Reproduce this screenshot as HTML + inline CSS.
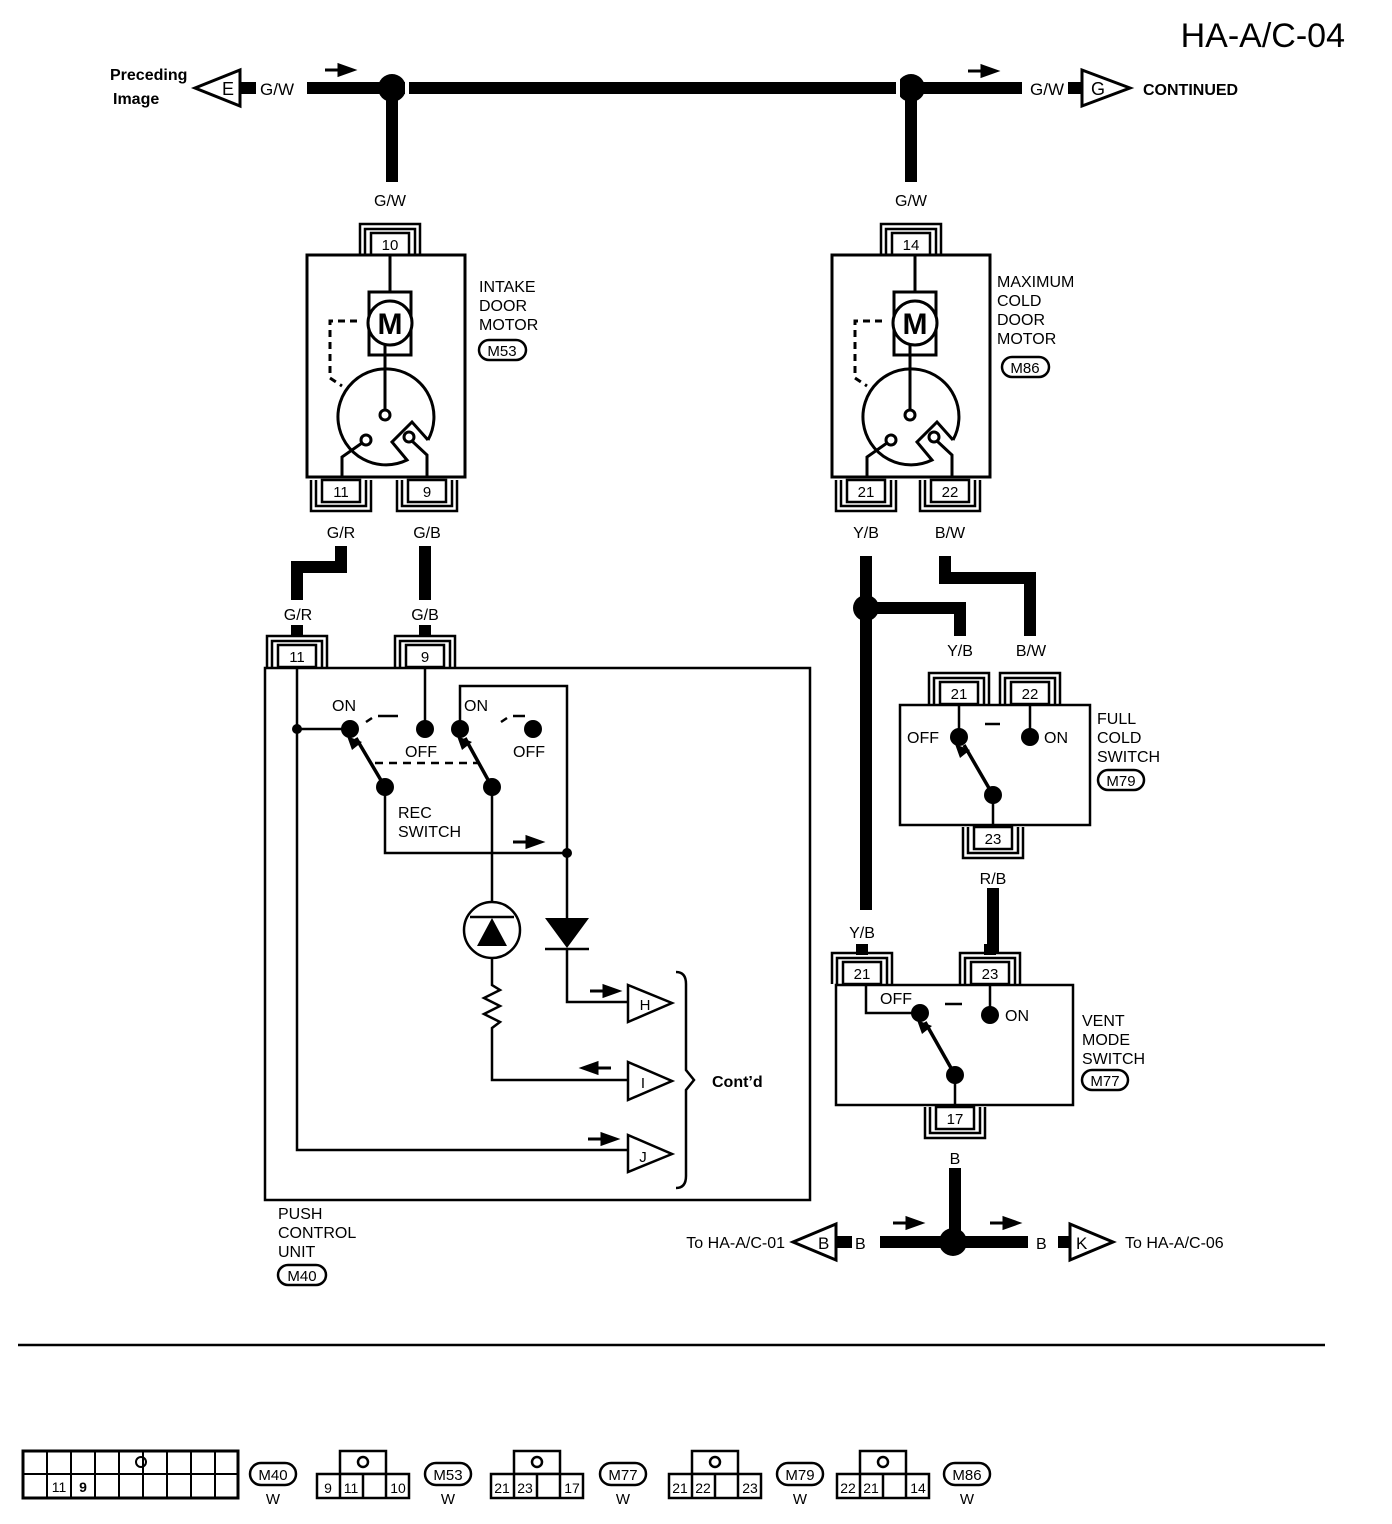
<!DOCTYPE html>
<html><head><meta charset="utf-8"><style>
html,body{margin:0;padding:0;background:#fff}
svg{display:block}
text{font-family:"Liberation Sans",sans-serif;fill:#000}
</style></head><body>
<svg width="1392" height="1524" viewBox="0 0 1392 1524" xmlns="http://www.w3.org/2000/svg">
<defs>
<g id="ct"><rect x="-19" y="0" width="38" height="22" fill="#fff" stroke="#000" stroke-width="2.5"/><path d="M-30,22 V-9 H30 V22 M-25,22 V-4 H25 V22" fill="none" stroke="#000" stroke-width="2.5"/></g>
<g id="cb"><rect x="-19" y="0" width="38" height="22" fill="#fff" stroke="#000" stroke-width="2.5"/><path d="M-30,0 V31 H30 V0 M-25,0 V26 H25 V0" fill="none" stroke="#000" stroke-width="2.5"/></g>
<path id="ar" d="M0,0 H16 M14,-5 L28,0 L14,5 Z" stroke="#000" stroke-width="3" fill="#000"/>
<path id="al" d="M28,0 H12 M14,-5 L0,0 L14,5 Z" stroke="#000" stroke-width="3" fill="#000"/>
</defs>
<rect width="1392" height="1524" fill="#fff"/>
<text x="1345" y="47" font-size="34" text-anchor="end">HA-A/C-04</text>

<!-- top bus -->
<g stroke="#000" stroke-width="12" fill="none">
<path d="M240,88 H256 M307,88 H392 H911 H1022 M1068,88 H1082"/>
<path d="M392,88 V182 M911,88 V182"/>
</g>
<circle cx="392" cy="88" r="14" fill="#000"/><circle cx="911" cy="88" r="14" fill="#000"/>
<rect x="405" y="78" width="4" height="20" fill="#fff"/><rect x="896" y="78" width="4" height="20" fill="#fff"/>
<polygon points="195,88 240,70 240,106" fill="#fff" stroke="#000" stroke-width="3"/>
<text x="222" y="95" font-size="18">E</text>
<text x="110" y="80" font-size="16" font-weight="bold">Preceding</text>
<text x="113" y="104" font-size="16" font-weight="bold">Image</text>
<text x="260" y="95" font-size="17">G/W</text>
<use href="#ar" x="325" y="70"/>
<text x="1030" y="95" font-size="17">G/W</text>
<polygon points="1130,88 1082,70 1082,106" fill="#fff" stroke="#000" stroke-width="3"/>
<text x="1091" y="95" font-size="18">G</text>
<text x="1143" y="95" font-size="16" font-weight="bold">CONTINUED</text>
<use href="#ar" x="968" y="71"/>

<!-- Intake door motor -->
<text x="390" y="206" font-size="16" text-anchor="middle">G/W</text>
<text x="911" y="206" font-size="16" text-anchor="middle">G/W</text>
<use href="#ct" x="390" y="233"/><text x="390" y="250" font-size="15" text-anchor="middle">10</text>
<use href="#ct" x="911" y="233"/><text x="911" y="250" font-size="15" text-anchor="middle">14</text>

<g id="motor">
<g stroke="#000" stroke-width="3" fill="none">
<rect x="307" y="255" width="158" height="222" fill="#fff"/>
<path d="M390,255 V292"/>
<rect x="369" y="292" width="42" height="63" fill="#fff"/>
<circle cx="390" cy="323" r="22" fill="#fff"/>
<path d="M357,321 H330 V378 L342,386" stroke-dasharray="7,5"/>
<path d="M385,345 V410"/>
<path d="M428,440 L412,422 L392,442 L407,460 A48,48 0 1 1 428,440"/>
<circle cx="385" cy="415" r="5" fill="#fff"/>
<circle cx="366" cy="440" r="5" fill="#fff"/>
<circle cx="409" cy="437" r="5" fill="#fff"/>
<path d="M362,443 L342,457 V477 M412,441 L427,455 V477"/>
</g>
<text x="390" y="334" font-size="30" font-weight="bold" text-anchor="middle">M</text>
</g>
<text x="479" y="292" font-size="16">INTAKE</text>
<text x="479" y="311" font-size="16">DOOR</text>
<text x="479" y="330" font-size="16">MOTOR</text>
<rect x="479" y="340" width="47" height="20" rx="10" fill="#fff" stroke="#000" stroke-width="2.5"/>
<text x="502" y="356" font-size="15" text-anchor="middle">M53</text>
<use href="#cb" x="341" y="480"/><text x="341" y="497" font-size="15" text-anchor="middle">11</text>
<use href="#cb" x="427" y="480"/><text x="427" y="497" font-size="15" text-anchor="middle">9</text>

<!-- Max cold door motor -->
<use href="#motor" x="525" y="0"/>
<text x="997" y="287" font-size="16">MAXIMUM</text>
<text x="997" y="306" font-size="16">COLD</text>
<text x="997" y="325" font-size="16">DOOR</text>
<text x="997" y="344" font-size="16">MOTOR</text>
<rect x="1002" y="357" width="47" height="20" rx="10" fill="#fff" stroke="#000" stroke-width="2.5"/>
<text x="1025" y="373" font-size="15" text-anchor="middle">M86</text>
<use href="#cb" x="866" y="480"/><text x="866" y="497" font-size="15" text-anchor="middle">21</text>
<use href="#cb" x="950" y="480"/><text x="950" y="497" font-size="15" text-anchor="middle">22</text>
<text x="866" y="538" font-size="16" text-anchor="middle">Y/B</text>
<text x="950" y="538" font-size="16" text-anchor="middle">B/W</text>

<!-- wires left -->
<text x="341" y="538" font-size="16" text-anchor="middle">G/R</text>
<text x="427" y="538" font-size="16" text-anchor="middle">G/B</text>
<text x="298" y="620" font-size="16" text-anchor="middle">G/R</text>
<text x="425" y="620" font-size="16" text-anchor="middle">G/B</text>
<g stroke="#000" stroke-width="12" fill="none">
<path d="M341,546 V567 H297 V600"/>
<path d="M425,546 V600"/>
<path d="M297,625 V637 M425,625 V637"/>
<path d="M866,556 V910 M866,608 H960 V636 M945,556 V578 H1030 V636"/>
<path d="M993,888 V954 M862,944 V955 M990,944 V955 M955,1168 V1242 M880,1242 H1028"/>
<path d="M836,1242 H852"/>
<path d="M1058,1242 H1070"/>
</g>
<circle cx="866" cy="608" r="13" fill="#000"/>
<circle cx="953" cy="1242" r="14" fill="#000"/>

<!-- Push control unit -->
<use href="#ct" x="297" y="645"/><text x="297" y="662" font-size="15" text-anchor="middle">11</text>
<use href="#ct" x="425" y="645"/><text x="425" y="662" font-size="15" text-anchor="middle">9</text>
<g stroke="#000" stroke-width="2.5" fill="none">
<path d="M265,668 H810 V1200 H265 Z"/>
<path d="M297,668 V1150 H628"/>
<path d="M297,729 H350"/>
<path d="M425,668 V729"/>
<path d="M460,729 V686 H567 V853"/>
<path d="M385,787 V853 H567"/>
<path d="M492,787 V902 M492,958 V985 L500,990 L484,998 L500,1006 L484,1014 L500,1022 L492,1028 V1080 H628"/>
<path d="M567,853 V918 M567,948 V1002 H628"/>
<circle cx="492" cy="930" r="28"/>
<path d="M470,917 H514 M545,949 H589"/>
<path d="M375,763 H480" stroke-dasharray="8,6"/>
<path d="M366,722 L372,718 M378,716 H398 M501,722 L507,718 M513,716 H525"/>
<path d="M385,787 L356,738 M492,787 L465,738" stroke-width="3.5"/>
<polygon points="628,985 672,1003 628,1022" fill="#fff"/>
<polygon points="628,1062 672,1081 628,1100" fill="#fff"/>
<polygon points="628,1135 672,1154 628,1172" fill="#fff"/>
<path d="M676,972 Q686,972 686,984 V1070 L694,1080 L686,1090 V1176 Q686,1188 676,1188"/>
</g>
<g fill="#000">
<circle cx="297" cy="729" r="5"/><circle cx="350" cy="729" r="9"/><circle cx="425" cy="729" r="9"/>
<circle cx="460" cy="729" r="9"/><circle cx="533" cy="729" r="9"/>
<circle cx="385" cy="787" r="9"/><circle cx="492" cy="787" r="9"/><circle cx="567" cy="853" r="5"/>
<polygon points="347,736 362,742 352,750"/><polygon points="457,736 472,742 462,750"/>
<polygon points="477,946 507,946 492,918"/>
<polygon points="545,918 589,918 567,948"/>
</g>
<use href="#ar" x="513" y="842"/>
<use href="#ar" x="590" y="991"/>
<use href="#al" x="583" y="1068"/>
<use href="#ar" x="588" y="1139"/>
<text x="332" y="711" font-size="16">ON</text>
<text x="464" y="711" font-size="16">ON</text>
<text x="405" y="757" font-size="16">OFF</text>
<text x="513" y="757" font-size="16">OFF</text>
<text x="398" y="818" font-size="16">REC</text>
<text x="398" y="837" font-size="16">SWITCH</text>
<text x="645" y="1010" font-size="15" text-anchor="middle">H</text>
<text x="643" y="1088" font-size="15" text-anchor="middle">I</text>
<text x="643" y="1162" font-size="15" text-anchor="middle">J</text>
<text x="712" y="1087" font-size="16" font-weight="bold">Cont’d</text>
<text x="278" y="1219" font-size="16">PUSH</text>
<text x="278" y="1238" font-size="16">CONTROL</text>
<text x="278" y="1257" font-size="16">UNIT</text>
<rect x="278" y="1265" width="48" height="20" rx="10" fill="#fff" stroke="#000" stroke-width="2.5"/>
<text x="302" y="1281" font-size="15" text-anchor="middle">M40</text>

<!-- Full cold switch -->
<text x="960" y="656" font-size="16" text-anchor="middle">Y/B</text>
<text x="1031" y="656" font-size="16" text-anchor="middle">B/W</text>
<use href="#ct" x="959" y="682"/><text x="959" y="699" font-size="15" text-anchor="middle">21</text>
<use href="#ct" x="1030" y="682"/><text x="1030" y="699" font-size="15" text-anchor="middle">22</text>
<g stroke="#000" stroke-width="2.5" fill="none">
<rect x="900" y="705" width="190" height="120"/>
<path d="M959,705 V737 M1030,705 V737 M993,795 V827"/>
<path d="M985,724 H1000" />
<path d="M993,795 L964,745" stroke-width="3.5"/>
<rect x="836" y="985" width="237" height="120"/>
<path d="M866,985 V1013 H920 M990,985 V1015 M955,1075 V1107"/>
<path d="M945,1004 H962"/>
<path d="M955,1075 L925,1022" stroke-width="3.5"/>
</g>
<g fill="#000">
<circle cx="959" cy="737" r="9"/><circle cx="1030" cy="737" r="9"/><circle cx="993" cy="795" r="9"/>
<polygon points="955,744 970,750 960,758"/>
<circle cx="920" cy="1013" r="9"/><circle cx="990" cy="1015" r="9"/><circle cx="955" cy="1075" r="9"/>
<polygon points="917,1020 932,1026 922,1034"/>
</g>
<text x="907" y="743" font-size="16">OFF</text>
<text x="1044" y="743" font-size="16">ON</text>
<text x="1097" y="724" font-size="16">FULL</text>
<text x="1097" y="743" font-size="16">COLD</text>
<text x="1097" y="762" font-size="16">SWITCH</text>
<rect x="1098" y="770" width="46" height="20" rx="10" fill="#fff" stroke="#000" stroke-width="2.5"/>
<text x="1121" y="786" font-size="15" text-anchor="middle">M79</text>
<use href="#cb" x="993" y="827"/><text x="993" y="844" font-size="15" text-anchor="middle">23</text>
<text x="993" y="884" font-size="16" text-anchor="middle">R/B</text>

<!-- Vent mode switch -->
<text x="862" y="938" font-size="16" text-anchor="middle">Y/B</text>
<use href="#ct" x="862" y="962"/><text x="862" y="979" font-size="15" text-anchor="middle">21</text>
<use href="#ct" x="990" y="962"/><text x="990" y="979" font-size="15" text-anchor="middle">23</text>
<text x="880" y="1004" font-size="16">OFF</text>
<text x="1005" y="1021" font-size="16">ON</text>
<text x="1082" y="1026" font-size="16">VENT</text>
<text x="1082" y="1045" font-size="16">MODE</text>
<text x="1082" y="1064" font-size="16">SWITCH</text>
<rect x="1082" y="1070" width="46" height="20" rx="10" fill="#fff" stroke="#000" stroke-width="2.5"/>
<text x="1105" y="1086" font-size="15" text-anchor="middle">M77</text>
<use href="#cb" x="955" y="1107"/><text x="955" y="1124" font-size="15" text-anchor="middle">17</text>
<text x="955" y="1164" font-size="16" text-anchor="middle">B</text>

<!-- bottom bus -->
<polygon points="793,1242 836,1224 836,1260" fill="#fff" stroke="#000" stroke-width="3"/>
<text x="818" y="1249" font-size="17">B</text>
<text x="855" y="1249" font-size="16">B</text>
<text x="1036" y="1249" font-size="16">B</text>
<polygon points="1113,1242 1070,1224 1070,1260" fill="#fff" stroke="#000" stroke-width="3"/>
<text x="1076" y="1249" font-size="17">K</text>
<text x="785" y="1248" font-size="16" text-anchor="end">To HA-A/C-01</text>
<text x="1125" y="1248" font-size="16">To HA-A/C-06</text>
<use href="#ar" x="893" y="1223"/>
<use href="#ar" x="990" y="1223"/>

<!-- separator -->
<path d="M18,1345 H1325" stroke="#000" stroke-width="2.5"/>

<!-- connector legend -->
<g stroke="#000" stroke-width="3" fill="#fff">
<rect x="23" y="1451" width="215" height="47"/>
</g>
<g stroke="#000" stroke-width="2" fill="none">
<path d="M23,1474 H238 M47,1451 V1498 M71,1451 V1498 M95,1451 V1498 M119,1451 V1498 M143,1451 V1498 M167,1451 V1498 M191,1451 V1498 M215,1451 V1498"/>
<circle cx="141" cy="1462" r="5"/>
</g>
<text x="59" y="1492" font-size="14" text-anchor="middle">11</text>
<text x="83" y="1492" font-size="14" text-anchor="middle" font-weight="bold">9</text>

<g id="c4" stroke="#000" stroke-width="2.5" fill="#fff">
<rect x="340" y="1451" width="46" height="23"/>
<rect x="317" y="1474" width="92" height="24"/>
<path d="M340,1474 V1498 M363,1474 V1498 M386,1474 V1498" fill="none"/>
<circle cx="363" cy="1462" r="5" fill="none"/>
</g>
<text x="328" y="1493" font-size="14" text-anchor="middle">9</text>
<text x="351" y="1493" font-size="14" text-anchor="middle">11</text>
<text x="398" y="1493" font-size="14" text-anchor="middle">10</text>
<use href="#c4" x="174" y="0"/>
<text x="502" y="1493" font-size="14" text-anchor="middle">21</text>
<text x="525" y="1493" font-size="14" text-anchor="middle">23</text>
<text x="572" y="1493" font-size="14" text-anchor="middle">17</text>
<use href="#c4" x="352" y="0"/>
<text x="680" y="1493" font-size="14" text-anchor="middle">21</text>
<text x="703" y="1493" font-size="14" text-anchor="middle">22</text>
<text x="750" y="1493" font-size="14" text-anchor="middle">23</text>
<use href="#c4" x="520" y="0"/>
<text x="848" y="1493" font-size="14" text-anchor="middle">22</text>
<text x="871" y="1493" font-size="14" text-anchor="middle">21</text>
<text x="918" y="1493" font-size="14" text-anchor="middle">14</text>

<g stroke="#000" stroke-width="2.5" fill="#fff">
<rect x="250" y="1463" width="46" height="22" rx="11"/>
<rect x="425" y="1463" width="46" height="22" rx="11"/>
<rect x="600" y="1463" width="46" height="22" rx="11"/>
<rect x="777" y="1463" width="46" height="22" rx="11"/>
<rect x="944" y="1463" width="46" height="22" rx="11"/>
</g>
<g font-size="15" text-anchor="middle">
<text x="273" y="1480">M40</text><text x="273" y="1504">W</text>
<text x="448" y="1480">M53</text><text x="448" y="1504">W</text>
<text x="623" y="1480">M77</text><text x="623" y="1504">W</text>
<text x="800" y="1480">M79</text><text x="800" y="1504">W</text>
<text x="967" y="1480">M86</text><text x="967" y="1504">W</text>
</g>
</svg>
</body></html>
